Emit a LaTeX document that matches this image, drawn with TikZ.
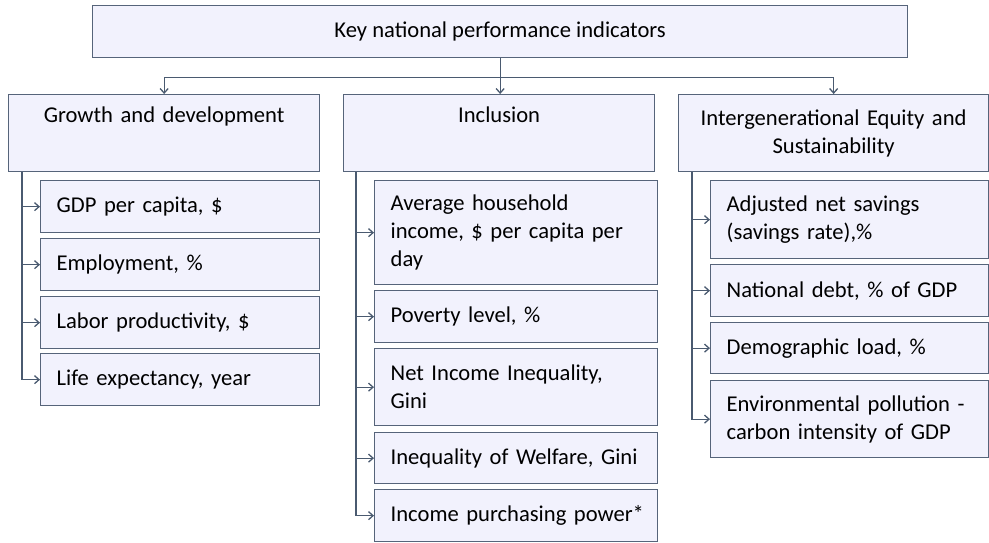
\documentclass[tikz,border=0pt]{standalone}
\usepackage{fontspec}
\setmainfont{Carlito}
\usetikzlibrary{arrows.meta,calc,positioning}
\definecolor{boxfill}{HTML}{F2F2FD}
\definecolor{boxline}{HTML}{56647A}
\definecolor{connline}{HTML}{4A5A70}
\tikzset{
  every node/.style={font=\fontsize{22.6pt}{28pt}\selectfont, text=black},
  box/.style={draw=boxline, fill=boxfill, line width=1.3pt, rectangle, anchor=north west, inner ysep=0pt},
  catbox/.style={box, inner xsep=4pt, align=center},
  item/.style={box, inner xsep=16pt, align=left},
  conn/.style={draw=connline, line width=1.3pt},
  arr/.style={conn, -{Straight Barb[length=4.5pt,width=8pt]}},
}
\begin{document}
\begin{tikzpicture}[x=1pt,y=-1pt]
\useasboundingbox (0,0) rectangle (989,542);
% top
\node[catbox, minimum width=815pt, minimum height=52pt] (top) at (92,5) {Key national performance indicators};
% categories
\node[catbox, minimum width=311pt, minimum height=77pt, text width=303pt] (g) at (8,94) {Growth and development\\\strut};
\node[catbox, minimum width=311pt, minimum height=77pt, text width=303pt] (inc) at (343,94) {Inclusion\\\strut};
\node[catbox, minimum width=310pt, minimum height=77pt, text width=302pt] (ie) at (678,94) {Intergenerational Equity and\\Sustainability};
% connectors from top
\coordinate (hub) at ($(top.south)+(0,19)$);
\draw[arr] (top.south) -- (hub) -- (hub |- inc.north);
\draw[arr] (hub) -| (g.north);
\draw[arr] (hub) -| (ie.north);
% growth items
\node[item, minimum height=52pt, text width=247pt] (g1) at (40,180) {GDP per capita, \$};
\node[item, minimum height=52pt, text width=247pt] (g2) at (40,238) {Employment, \%};
\node[item, minimum height=52pt, text width=247pt] (g3) at (40,296) {Labor productivity, \$};
\node[item, minimum height=52pt, text width=247pt] (g4) at (40,353) {Life expectancy, year};
% inclusion items
\node[item, minimum height=104pt, text width=251pt] (i1) at (374,180) {Average household\\income, \$ per capita per\\day};
\node[item, minimum height=52pt, text width=251pt] (i2) at (374,290) {Poverty level, \%};
\node[item, minimum height=77pt, text width=251pt] (i3) at (374,348) {Net Income Inequality,\\Gini};
\node[item, minimum height=51pt, text width=251pt] (i4) at (374,432) {\mbox{Inequality of Welfare, Gini}};
\node[item, minimum height=52pt, text width=251pt] (i5) at (374,489) {\mbox{Income purchasing power*}};
% intergenerational items
\node[item, minimum height=78pt, text width=246pt] (e1) at (710,180) {Adjusted net savings\\(savings rate),\%};
\node[item, minimum height=52pt, text width=246pt] (e2) at (710,264) {National debt, \% of GDP};
\node[item, minimum height=51pt, text width=246pt] (e3) at (710,322) {Demographic load, \%};
\node[item, minimum height=77pt, text width=246pt] (e4) at (710,380) {Environmental pollution -\\carbon intensity of GDP};
% branch lines
\coordinate (gs) at ($(g.south west)+(14,0)$);
\foreach \c in {g1,g2,g3,g4} \draw[arr] (gs) |- (\c.west);
\coordinate (is) at ($(inc.south west)+(13,0)$);
\foreach \c in {i1,i2,i3,i4,i5} \draw[arr] (is) |- (\c.west);
\coordinate (es) at ($(ie.south west)+(14,0)$);
\foreach \c in {e1,e2,e3,e4} \draw[arr] (es) |- (\c.west);
\end{tikzpicture}
\end{document}
